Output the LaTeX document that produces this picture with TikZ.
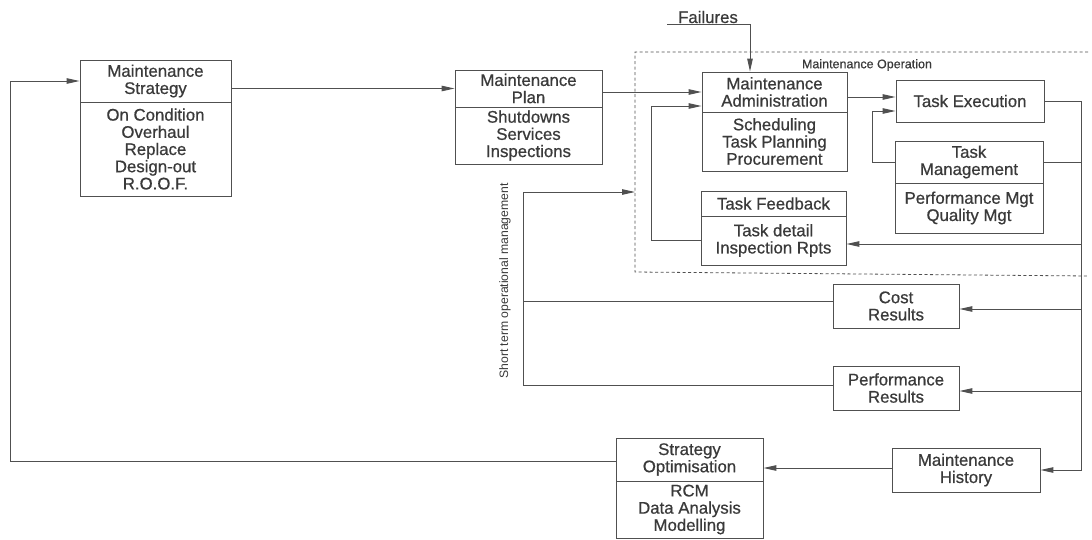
\documentclass[tikz,border=0pt]{standalone}
\usepackage{fontspec}
\setmainfont{Liberation Sans}[BoldFont={Liberation Sans},BoldFeatures={FakeBold=0.7}]
\usetikzlibrary{arrows.meta,calc}
\definecolor{ink}{HTML}{3A3A3A}
\definecolor{wirec}{HTML}{505050}
\newcommand\boxfont{\fontsize{16.8}{17.2}\selectfont\bfseries}
\newcommand\smallfont{\fontsize{12.5}{13}\selectfont\bfseries}
\newcommand\sidefont{\fontsize{12.2}{13}\selectfont}
\tikzset{
  box/.style={draw=wirec, line width=0.9pt, inner sep=0pt, align=center,
    text=ink, font=\boxfont},
  wire/.style={draw=wirec, line width=1pt},
  arr/.style={wire, -{Triangle[length=13pt,width=5.5pt]}},
  zone/.style={draw=wirec, line width=0.8pt, dash pattern=on 3pt off 2.5pt},
}
\begin{document}
\begin{tikzpicture}[x=1pt,y=-1pt]
\useasboundingbox (0,0) rectangle (1092,539);

% Maintenance Operation zone (open on the right)
\draw[zone] (1088,52) -- (635,52) -- (635,272) -- (1088,276);
\node[text=ink, font=\smallfont] (opLabel) at (867,65) {Maintenance Operation};
\coordinate (opIn) at (635,192);

% Maintenance Strategy
\node[box, minimum width=151pt, minimum height=42pt] (strH) at (155.5,81)
  {Maintenance\\Strategy};
\node[box, minimum width=151pt, minimum height=94pt] (strB) at (155.5,149)
  {On Condition\\Overhaul\\Replace\\Design-out\\R.O.O.F.};

% Maintenance Plan
\node[box, minimum width=147pt, minimum height=37pt] (planH) at (528.5,88.5)
  {Maintenance\\Plan};
\node[box, minimum width=147pt, minimum height=57pt] (planB) at (528.5,135.5)
  {Shutdowns\\Services\\Inspections};

% Maintenance Administration
\node[box, minimum width=145pt, minimum height=40pt] (admH) at (774.5,92)
  {Maintenance\\Administration};
\node[box, minimum width=145pt, minimum height=59pt] (admB) at (774.5,141.5)
  {Scheduling\\Task Planning\\Procurement};

% Task Execution
\node[box, minimum width=148pt, minimum height=42pt] (exe) at (970,101)
  {Task Execution};

% Task Management
\node[box, minimum width=148pt, minimum height=42pt] (mgtH) at (969,162)
  {Task\\Management};
\node[box, minimum width=148pt, minimum height=50pt] (mgtB) at (969,208)
  {Performance Mgt\\Quality Mgt};

% Task Feedback
\node[box, minimum width=145pt, minimum height=25pt] (fbH) at (773.5,203.5)
  {Task Feedback};
\node[box, minimum width=145pt, minimum height=49pt] (fbB) at (773.5,240.5)
  {Task detail\\Inspection Rpts};

% Results
\node[box, minimum width=126pt, minimum height=44pt] (cost) at (896,306)
  {Cost\\Results};
\node[box, minimum width=126pt, minimum height=44pt] (perf) at (896,388)
  {Performance\\Results};

% Maintenance History
\node[box, minimum width=148pt, minimum height=44pt] (hist) at (966,470)
  {Maintenance\\History};

% Strategy Optimisation
\node[box, minimum width=147pt, minimum height=43pt] (optH) at (689.5,459.5)
  {Strategy\\Optimisation};
\node[box, minimum width=147pt, minimum height=57pt] (optB) at (689.5,509.5)
  {RCM\\Data Analysis\\Modelling};

% Failures input
\node[text=ink, font=\boxfont] (fail) at (708,17) {Failures};
\coordinate (failL) at (667,24);
\draw[arr] (failL) -| ($(admH.north)+(-24.5,0)$);

% Strategy -> Plan -> Administration
\draw[arr] (strH.east |- planH.west) -- (planH.west);
\draw[arr] (planH.east |- admH.west) -- (admH.west);

% Task feedback loop into administration
\draw[arr] (fbB.west) -- ++(-49,0) |- ($(admH.west)+(0,14)$);

% Administration -> Task Execution
\draw[arr] (admH.east |- {$(exe.west)+(0,-4)$}) -- ($(exe.west)+(0,-4)$);
% Task Management -> Task Execution
\draw[arr] (mgtH.west) -- ++(-22,0) |- ($(exe.west)+(0,10)$);

% Right-hand return bus
\coordinate (busTop) at (1081,101);
\draw[arr] (exe.east) -- (busTop) -- (busTop |- hist.east) -- (hist.east);
\draw[wire] (mgtH.east) -- (mgtH.east -| busTop);
\draw[arr] ($(fbB.east -| busTop)+(0,3.5)$) -- ($(fbB.east)+(0,3.5)$);
\draw[arr] ($(cost.east -| busTop)+(0,3)$) -- ($(cost.east)+(0,3)$);
\draw[arr] ($(perf.east -| busTop)+(0,3)$) -- ($(perf.east)+(0,3)$);

% Short term operational management loop
\coordinate (stv) at (523,385);
\draw[wire] ($(cost.west)+(0,-5)$) -- ($(cost.west -| stv)+(0,-5)$);
\draw[arr] ($(perf.west)+(0,-3)$) -- ($(perf.west -| stv)+(0,-3)$) |- (opIn);
\node[text=ink, font=\sidefont, rotate=90] (stLabel) at (505,281)
  {Short term operational management};

% History -> Optimisation -> Strategy
\draw[arr] ($(hist.west)+(0,-2)$) -- ($(hist.west -| optH.east)+(0,-2)$);
\coordinate (lb) at (10,462);
\draw[arr] ($(optH.west)+(0,2)$) -- ($(optH.west -| lb)+(0,2)$) |- (strH.west);
\end{tikzpicture}
\end{document}
